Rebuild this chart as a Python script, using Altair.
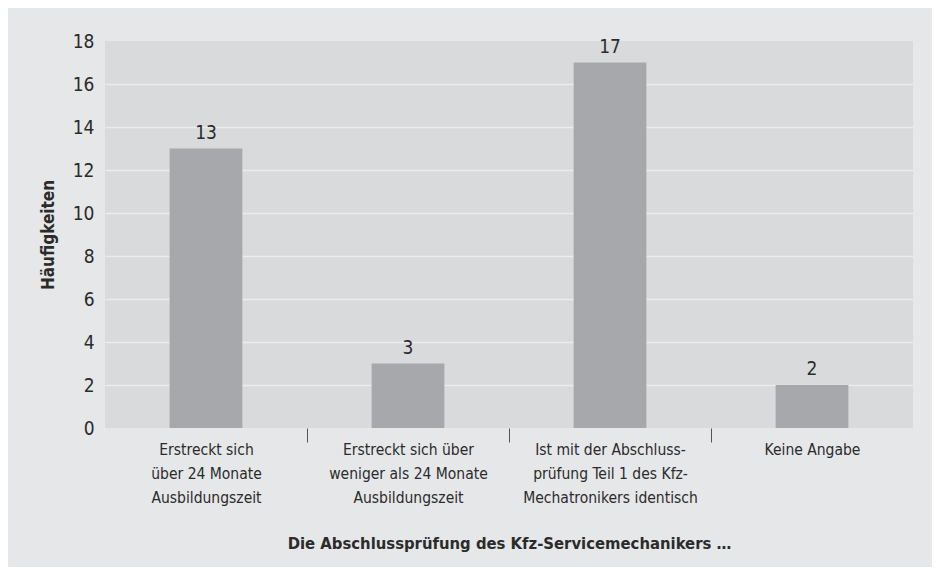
import altair as alt
import pandas as pd

categories = [
    "Erstreckt sich\nüber 24 Monate\nAusbildungszeit",
    "Erstreckt sich über\nweniger als 24 Monate\nAusbildungszeit",
    "Ist mit der Abschluss-\nprüfung Teil 1 des Kfz-\nMechatronikers identisch",
    "Keine Angabe",
]
counts = [13, 3, 17, 2]
y_ticks = [0, 2, 4, 6, 8, 10, 12, 14, 16, 18]

x_title = "Die Abschlussprüfung des Kfz-Servicemechanikers …"
y_title = "Häufigkeiten"

df = pd.DataFrame({"cat": categories, "n": counts})

FONT = "DejaVu Sans Condensed, Liberation Sans Narrow, Roboto, sans-serif"
TEXT = "#2b2b2b"

x_enc = alt.X(
    "cat:N",
    sort=categories,
    title=x_title,
    scale=alt.Scale(paddingInner=0.64, paddingOuter=0.32),
    axis=alt.Axis(
        labelAngle=0,
        labelExpr="split(datum.label, '\\n')",
        labelFont=FONT,
        labelFontSize=15.5,
        labelColor=TEXT,
        labelLineHeight=24,
        labelBaseline="top",
        labelPadding=0,
        labelLimit=300,
        labelOffset=-101,
        domain=False,
        ticks=True,
        tickSize=14,
        tickColor="#555555",
        tickWidth=1,
        tickOffset=101,
        tickOpacity={"condition": {"test": "datum.value == 'Keine Angabe'", "value": 0}, "value": 1},
        titleFont=FONT,
        titleFontSize=16.5,
        titleFontWeight="bold",
        titleColor=TEXT,
        titleX=404,
        titleY=120,
        titleBaseline="alphabetic",
    ),
)

y_enc = alt.Y(
    "n:Q",
    title=y_title,
    scale=alt.Scale(domain=[0, 18], nice=False),
    axis=alt.Axis(
        values=y_ticks,
        labelFont=FONT,
        labelFontSize=19,
        labelColor=TEXT,
        labelPadding=11,
        domain=False,
        ticks=False,
        grid=True,
        gridColor="#ececed",
        gridWidth=1.3,
        gridOpacity={"condition": {"test": "datum.value == 0 || datum.value == 18", "value": 0}, "value": 1},
        titleFont=FONT,
        titleFontSize=17,
        titleFontWeight="bold",
        titleColor=TEXT,
        titleX=-52,
        titleY=193.5,
        titleBaseline="alphabetic",
    ),
)

base = alt.Chart(df).encode(x=x_enc, y=y_enc)

bars = base.mark_bar(color="#a7a8ab")
labels = base.mark_text(
    dy=-10, baseline="alphabetic", font=FONT, fontSize=19, color=TEXT
).encode(text="n:Q")

chart = (
    alt.layer(bars, labels)
    .properties(
        width=808,
        height=387,
        autosize=alt.AutoSizeParams(type="none"),
        padding={"left": 97, "top": 33, "right": 19, "bottom": 139},
        background="#e6e7e8",
    )
    .configure_view(fill="#d9dadb", stroke=None, strokeWidth=0)
)

chart.save("out.html", embed_options={"renderer": "svg", "actions": False})
